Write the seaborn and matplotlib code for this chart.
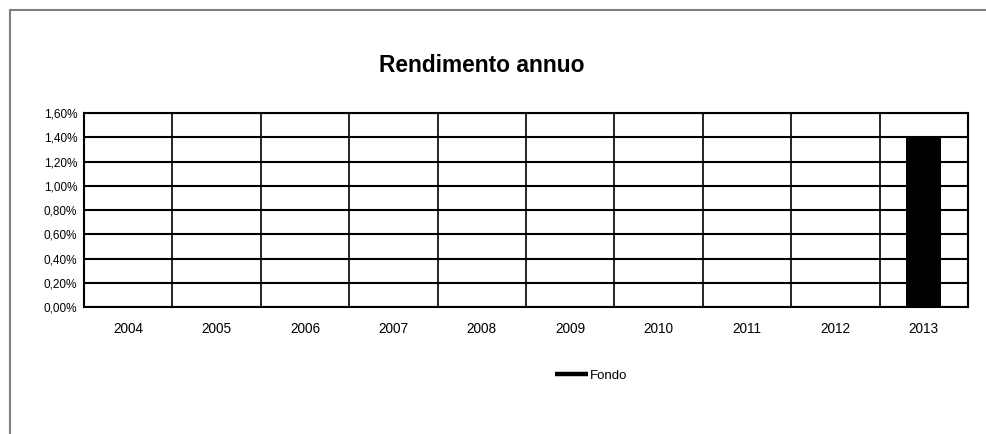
import numpy as np
import pandas as pd
import matplotlib
matplotlib.use("Agg")
import matplotlib.pyplot as plt
import seaborn as sns
from matplotlib.ticker import FuncFormatter, FixedLocator
from matplotlib.lines import Line2D

# dati
anni = ['2004', '2005', '2006', '2007', '2008', '2009', '2010', '2011', '2012', '2013']
fondo = [0.0, 0.0, 0.0, 0.0, 0.0, 0.0, 0.0, 0.0, 0.0, 1.40]
df = pd.DataFrame({'Anno': anni, 'Fondo': fondo})

sns.set_style('white')
plt.rcParams['font.family'] = ['Liberation Sans', 'DejaVu Sans']
plt.rcParams['text.color'] = 'black'

fig = plt.figure(figsize=(9.87, 4.34), dpi=100)
ax = fig.add_axes([0.0851, 0.2926, 0.8956, 0.447])

sns.barplot(data=df, x='Anno', y='Fondo', color='black', width=0.4,
            edgecolor='black', linewidth=0, ax=ax)

ax.set_xlim(-0.5, len(anni) - 0.5)
ax.set_ylim(0, 1.6)
ax.set_yticks(np.arange(0, 1.61, 0.2))
ax.yaxis.set_major_formatter(FuncFormatter(lambda v, p: f'{v:.2f}%'.replace('.', ',')))

ax.xaxis.set_minor_locator(FixedLocator(np.arange(-0.5, len(anni), 1.0)))
ax.tick_params(axis='x', which='major', length=0, pad=11, labelsize=9.8, labelcolor='black')
ax.tick_params(axis='x', which='minor', length=4, width=1.2, direction='out', color='black')
ax.tick_params(axis='y', length=4, width=1.2, direction='out', color='black',
               labelsize=8.5, labelcolor='black', pad=1)

ax.grid(axis='y', which='major', color='black', linewidth=1.5)
ax.grid(axis='x', which='minor', color='black', linewidth=1.2)
ax.set_axisbelow(True)
for s in ax.spines.values():
    s.set_color('black')
    s.set_linewidth(1.5)

ax.set_xlabel('')
ax.set_ylabel('')

fig.text(0.4885, 1 - 72 / 434, 'Rendimento annuo', ha='center', va='baseline',
         fontsize=16.4, fontweight='bold', color='black')

# legenda
h = [Line2D([0], [0], color='black', linewidth=3.2, solid_capstyle='butt')]
fig.legend(h, ['Fondo'], loc='center', bbox_to_anchor=(0.599, 0.135), frameon=False,
           fontsize=9.5, handlelength=2.5, handletextpad=0.12)

# bordo del grafico
fig.add_artist(Line2D([10 / 987, 1], [1 - 10 / 434, 1 - 10 / 434], color='#808080', linewidth=1.5,
                      transform=fig.transFigure))
fig.add_artist(Line2D([10 / 987, 10 / 987], [0, 1 - 10 / 434], color='#808080', linewidth=1.5,
                      transform=fig.transFigure))

plt.savefig('out.png', dpi=100)
